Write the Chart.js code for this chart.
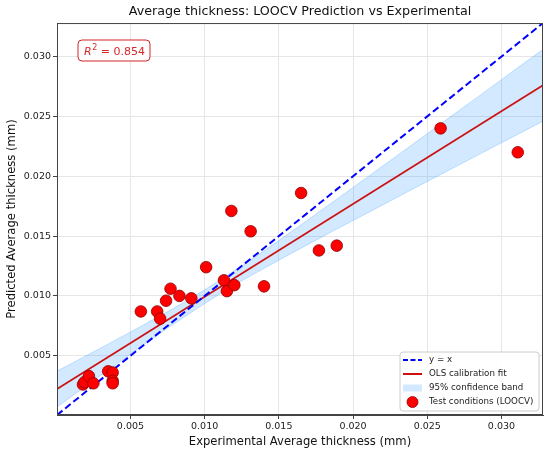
<!DOCTYPE html>
<html>
<head>
<meta charset="utf-8">
<script src="https://cdn.jsdelivr.net/npm/chart.js@4.4.1/dist/chart.umd.min.js"></script>
<style>
  html, body { margin: 0; padding: 0; background: #fff; }
</style>
</head>
<body>
<canvas id="chart" width="550" height="456"></canvas>
<script>
  // Datos (mm)
  const expX  = [0.0018, 0.0019, 0.0022, 0.0025, 0.0035, 0.0038, 0.0038, 0.0038,
                 0.0057, 0.0068, 0.0070, 0.0074, 0.0077, 0.0083, 0.0091, 0.0101,
                 0.0113, 0.0115, 0.0118, 0.0120, 0.0131, 0.0140, 0.0165, 0.0177,
                 0.0189, 0.0259, 0.0311];
  const predY = [0.0026, 0.0028, 0.0033, 0.0027, 0.0037, 0.0036, 0.0029, 0.0027,
                 0.0087, 0.0087, 0.0081, 0.0096, 0.0106, 0.0100, 0.0098, 0.0124,
                 0.0113, 0.0104, 0.0171, 0.0109, 0.0154, 0.0108, 0.0186, 0.0138,
                 0.0142, 0.0240, 0.0220];

  const axisRange  = [0.00005, 0.0328];
  const tickValues = [0.005, 0.010, 0.015, 0.020, 0.025, 0.030];

  const fitX = [0.00005, 0.0328];
  const fitY = [0.00222, 0.02760];

  const bandX     = [0.00005, 0.003, 0.006, 0.009, 0.012, 0.015, 0.018, 0.021, 0.024, 0.027, 0.030, 0.0328];
  const bandLower = [0.00072, 0.00336, 0.00600, 0.00855, 0.01089, 0.01298, 0.01499, 0.01695, 0.01891, 0.02085, 0.02279, 0.02460];
  const bandUpper = [0.00372, 0.00565, 0.00766, 0.00976, 0.01211, 0.01463, 0.01728, 0.01996, 0.02265, 0.02536, 0.02807, 0.03060];

  const r2 = 0.854;

  const FONT = 'DejaVu Sans';
  const bandFill = 'rgba(30,144,255,0.2)';
  const bandEdge = 'rgba(30,144,255,0.3)';
  const fitColor = '#cc1111';
  const r2Color = '#d62728';

  const toXY = (xs, ys) => xs.map((x, i) => ({ x: x, y: ys[i] }));

  // Marco completo, cuadro de R² y leyenda
  const extras = {
      id: 'extras',
      afterDraw(chart) {
          const ctx = chart.ctx;
          const a = chart.chartArea;
          ctx.save();
          ctx.strokeStyle = '#444';
          ctx.lineWidth = 1;
          ctx.strokeRect(a.left + 0.5, a.top + 0.5, a.right - a.left - 1, a.bottom - a.top - 1);

          // R²
          const bx = 78, by = 40, bw = 72, bh = 21;
          ctx.beginPath();
          ctx.roundRect(bx, by, bw, bh, 4);
          ctx.fillStyle = 'rgba(255,255,255,0.9)';
          ctx.fill();
          ctx.strokeStyle = r2Color;
          ctx.stroke();
          ctx.fillStyle = r2Color;
          ctx.textBaseline = 'alphabetic';
          let tx = bx + 6;
          const ty = by + 15;
          ctx.font = 'italic 11px ' + FONT;
          ctx.fillText('R', tx, ty);
          tx += ctx.measureText('R').width + 0.5;
          ctx.font = '8px ' + FONT;
          ctx.fillText('2', tx, ty - 5);
          tx += ctx.measureText('2').width;
          ctx.font = '11px ' + FONT;
          ctx.fillText(' = ' + r2.toFixed(3), tx, ty);

          // Leyenda
          const lx = 400, ly = 352, lw = 139, lh = 59;
          ctx.beginPath();
          ctx.roundRect(lx, ly, lw, lh, 3);
          ctx.fillStyle = 'rgba(255,255,255,0.85)';
          ctx.fill();
          ctx.strokeStyle = '#cccccc';
          ctx.stroke();
          const rows = [360, 374, 388, 402];
          const hx0 = 403, hx1 = 422;
          ctx.lineWidth = 2;
          ctx.strokeStyle = '#0000ff';
          ctx.setLineDash([5, 2.5]);
          ctx.beginPath(); ctx.moveTo(hx0, rows[0]); ctx.lineTo(hx1, rows[0]); ctx.stroke();
          ctx.setLineDash([]);
          ctx.strokeStyle = fitColor;
          ctx.beginPath(); ctx.moveTo(hx0, rows[1]); ctx.lineTo(hx1, rows[1]); ctx.stroke();
          ctx.fillStyle = bandFill;
          ctx.fillRect(hx0, rows[2] - 3.5, hx1 - hx0, 7);
          ctx.beginPath();
          ctx.arc((hx0 + hx1) / 2, rows[3], 5.5, 0, Math.PI * 2);
          ctx.fillStyle = '#ff0000';
          ctx.fill();
          ctx.lineWidth = 0.8;
          ctx.strokeStyle = '#8b0000';
          ctx.stroke();
          const labels = ['y = x', 'OLS calibration fit', '95% confidence band', 'Test conditions (LOOCV)'];
          ctx.fillStyle = '#222';
          ctx.font = '8.7px ' + FONT;
          ctx.textBaseline = 'middle';
          labels.forEach((t, i) => ctx.fillText(t, 429, rows[i]));
          ctx.restore();
      }
  };

  const axisCommon = {
      type: 'linear',
      min: axisRange[0],
      max: axisRange[1],
      afterBuildTicks: (scale) => { scale.ticks = tickValues.map(v => ({ value: v })); },
      grid: { color: '#e6e6e6', lineWidth: 1, tickLength: 4, tickColor: '#444' },
      border: { color: '#444', width: 1 },
      ticks: {
          color: '#222',
          font: { family: FONT, size: 9.5 },
          padding: 2,
          callback: (v) => v.toFixed(3)
      }
  };

  new Chart(document.getElementById('chart').getContext('2d'), {
      type: 'scatter',
      data: {
          datasets: [
              {
                  type: 'line',
                  label: 'upper',
                  data: toXY(bandX, bandUpper),
                  borderColor: bandEdge,
                  borderWidth: 0.8,
                  pointRadius: 0,
                  fill: false,
                  tension: 0.4,
                  order: 5
              },
              {
                  type: 'line',
                  label: '95% confidence band',
                  data: toXY(bandX, bandLower),
                  borderColor: bandEdge,
                  borderWidth: 0.8,
                  backgroundColor: bandFill,
                  pointRadius: 0,
                  fill: '-1',
                  tension: 0.4,
                  order: 4
              },
              {
                  type: 'line',
                  label: 'OLS calibration fit',
                  data: toXY(fitX, fitY),
                  borderColor: fitColor,
                  borderWidth: 1.8,
                  pointRadius: 0,
                  fill: false,
                  order: 3
              },
              {
                  type: 'line',
                  label: 'y = x',
                  data: toXY(axisRange, axisRange),
                  borderColor: '#0000ff',
                  borderWidth: 2,
                  borderDash: [7, 3.5],
                  pointRadius: 0,
                  fill: false,
                  order: 2
              },
              {
                  label: 'Test conditions (LOOCV)',
                  data: toXY(expX, predY),
                  backgroundColor: '#ff0000',
                  borderColor: '#8b0000',
                  borderWidth: 0.8,
                  pointRadius: 5.8,
                  order: 1
              }
          ]
      },
      options: {
          responsive: false,
          animation: false,
          layout: { padding: { left: 0, right: 7, top: 0, bottom: 0 } },
          plugins: {
              legend: { display: false },
              tooltip: { enabled: false },
              title: {
                  display: true,
                  fullSize: false,
                  text: 'Average thickness: LOOCV Prediction vs Experimental',
                  color: '#111',
                  font: { family: FONT, size: 12.7, weight: 'normal' },
                  padding: { top: 4.5, bottom: 3.3 }
              }
          },
          scales: {
              x: Object.assign({}, axisCommon, {
                  afterFit: (scale) => { scale.height = 41; },
                  title: {
                      display: true,
                      text: 'Experimental Average thickness (mm)',
                      color: '#111',
                      font: { family: FONT, size: 11.6 },
                      padding: { top: 0, bottom: 7 }
                  }
              }),
              y: Object.assign({}, axisCommon, {
                  afterFit: (scale) => { scale.width = 57; },
                  title: {
                      display: true,
                      text: 'Predicted Average thickness (mm)',
                      color: '#111',
                      font: { family: FONT, size: 11.6 },
                      padding: { top: 5, bottom: 0 }
                  }
              })
          }
      },
      plugins: [extras]
  });
</script>
</body>
</html>
